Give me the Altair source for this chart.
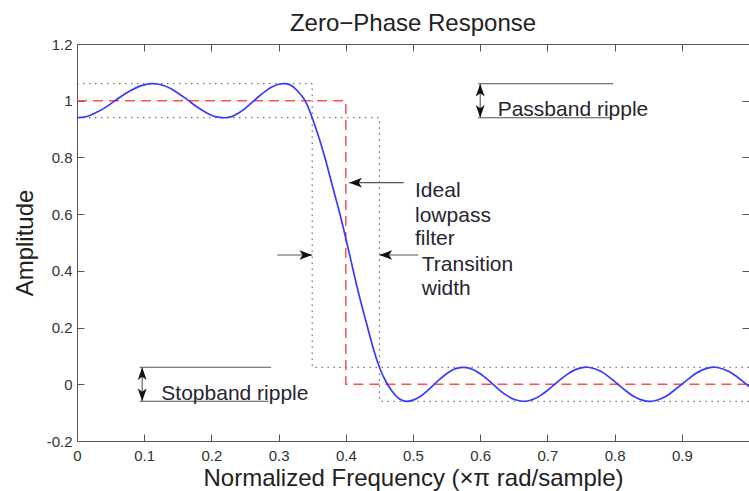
import altair as alt
import pandas as pd

FONT = "Liberation Sans"

# ---------------- data ----------------
chart_title = "Zero\u2212Phase Response"

freq = [0.00, 0.01, 0.02, 0.03, 0.04, 0.05, 0.06, 0.07, 0.08, 0.09,
        0.10, 0.11, 0.12, 0.13, 0.14, 0.15, 0.16, 0.17, 0.18, 0.19,
        0.20, 0.21, 0.22, 0.23, 0.24, 0.25, 0.26, 0.27, 0.28, 0.29,
        0.30, 0.31, 0.32, 0.33, 0.34, 0.35, 0.36, 0.37, 0.38, 0.39,
        0.40, 0.41, 0.42, 0.43, 0.44, 0.45, 0.46, 0.47, 0.48, 0.49,
        0.50, 0.51, 0.52, 0.53, 0.54, 0.55, 0.56, 0.57, 0.58, 0.59,
        0.60, 0.61, 0.62, 0.63, 0.64, 0.65, 0.66, 0.67, 0.68, 0.69,
        0.70, 0.71, 0.72, 0.73, 0.74, 0.75, 0.76, 0.77, 0.78, 0.79,
        0.80, 0.81, 0.82, 0.83, 0.84, 0.85, 0.86, 0.87, 0.88, 0.89,
        0.90, 0.91, 0.92, 0.93, 0.94, 0.95, 0.96, 0.97, 0.98, 0.99,
        1.00]
amp = [0.940, 0.942, 0.949, 0.960, 0.973, 0.989, 1.006, 1.022, 1.036, 1.048,
       1.056, 1.060, 1.059, 1.053, 1.042, 1.027, 1.011, 0.993, 0.976, 0.961,
       0.949, 0.942, 0.940, 0.944, 0.956, 0.972, 0.993, 1.014, 1.033, 1.048,
       1.058, 1.060, 1.052, 1.030, 0.998, 0.940, 0.870, 0.790, 0.700, 0.612,
       0.515, 0.412, 0.312, 0.222, 0.134, 0.060, 0.008, -0.028, -0.052, -0.060,
       -0.056, -0.044, -0.026, -0.004, 0.018, 0.037, 0.052, 0.059, 0.059, 0.051,
       0.037, 0.019, -0.002, -0.023, -0.040, -0.053, -0.059, -0.059, -0.052, -0.039,
       -0.022, -0.002, 0.018, 0.036, 0.050, 0.058, 0.060, 0.055, 0.045, 0.029,
       0.010, -0.010, -0.029, -0.045, -0.055, -0.060, -0.058, -0.050, -0.037, -0.019,
       0.000, 0.019, 0.037, 0.050, 0.058, 0.060, 0.055, 0.045, 0.030, 0.012,
       -0.008]

# ideal lowpass filter (red dashed)
ideal_x = [0.0, 0.4, 0.4, 1.0]
ideal_y = [1.0, 1.0, 0.0, 0.0]
ideal_ord = [0, 1, 2, 3]

# tolerance scheme (dotted)
tol_x = [0.0, 0.35, 0.35, 1.0, 0.0, 0.45, 0.45, 1.0]
tol_y = [1.06, 1.06, 0.06, 0.06, 0.94, 0.94, -0.06, -0.06]
tol_id = ["upper", "upper", "upper", "upper", "lower", "lower", "lower", "lower"]
tol_ord = [0, 1, 2, 3, 0, 1, 2, 3]

# annotation line segments
seg_x = [0.597, 0.597, 0.600, 0.093, 0.093, 0.097, 0.405, 0.298, 0.450]
seg_x2 = [0.798, 0.795, 0.600, 0.289, 0.285, 0.097, 0.486, 0.350, 0.508]
seg_y = [1.06, 0.94, 1.06, 0.06, -0.06, 0.06, 0.711, 0.456, 0.456]
seg_y2 = [1.06, 0.94, 0.94, 0.06, -0.06, -0.06, 0.711, 0.456, 0.456]

# arrow heads (tip positions)
head_x = [0.405, 0.450, 0.350, 0.600, 0.600, 0.097, 0.097]
head_y = [0.711, 0.456, 0.456, 1.06, 0.94, 0.06, -0.06]
head_dir = ["left", "left", "right", "up", "down", "up", "down"]

# annotation texts
lab_text = ["Passband ripple", "Stopband ripple", "Ideal", "lowpass", "filter",
            "Transition", "width"]
lab_x = [0.626, 0.1255, 0.503, 0.503, 0.503, 0.513, 0.513]
lab_y = [0.946, -0.056, 0.659, 0.574, 0.490, 0.399, 0.314]

# axis ticks
x_labels = [0.0, 0.1, 0.2, 0.3, 0.4, 0.5, 0.6, 0.7, 0.8, 0.9]
y_labels = [-0.2, 0.0, 0.2, 0.4, 0.6, 0.8, 1.0, 1.2]
x_ticks = [0.1, 0.2, 0.3, 0.4, 0.5, 0.6, 0.7, 0.8, 0.9]
y_ticks = [0.0, 0.2, 0.4, 0.6, 0.8, 1.0]

# ---------------- frames ----------------
curve_df = pd.DataFrame({"freq": freq, "amp": amp})
ideal_df = pd.DataFrame({"freq": ideal_x, "amp": ideal_y, "ord": ideal_ord})
tol_df = pd.DataFrame({"freq": tol_x, "amp": tol_y, "grp": tol_id, "ord": tol_ord})
seg_df = pd.DataFrame({"x": seg_x, "x2": seg_x2, "y": seg_y, "y2": seg_y2})
head_df = pd.DataFrame({"x": head_x, "y": head_y, "dir": head_dir})
lab_df = pd.DataFrame({"text": lab_text, "x": lab_x, "y": lab_y})
title_df = pd.DataFrame({"text": [chart_title]})

W, H = 672, 397
XS = alt.Scale(domain=[0, 1], nice=False, zero=False)
YS = alt.Scale(domain=[-0.2, 1.2], nice=False, zero=False)
LBL = "replace(format(datum.value, '.1~f'), '\u2212', '-')"
AX = "#555555"

main_x = alt.Axis(orient="bottom", values=x_labels, labelExpr=LBL, grid=False,
                  domain=True, domainColor=AX, ticks=False, labelPadding=7,
                  labelFlush=False, labelOverlap=False,
                  labelFont=FONT, labelFontSize=15, labelColor="#333333",
                  title="Normalized Frequency (\u00d7\u03c0 rad/sample)",
                  titleFont=FONT, titleFontSize=24, titleFontWeight="normal",
                  titleColor="#222222", titleY=44, titleBaseline="alphabetic")
main_y = alt.Axis(orient="left", values=y_labels, labelExpr=LBL, grid=False,
                  domain=True, domainColor=AX, ticks=False, labelPadding=5,
                  labelFlush=False, labelOverlap=False,
                  labelFont=FONT, labelFontSize=15, labelColor="#333333",
                  title="Amplitude", titleFont=FONT, titleFontSize=24,
                  titleFontWeight="normal", titleColor="#222222",
                  titleX=-45, titleY=H / 2, titleAngle=270, titleAlign="center",
                  titleBaseline="alphabetic")


def tick_axis(orient, vals):
    return alt.Axis(orient=orient, values=vals, offset=-7, tickSize=7, ticks=True,
                    tickColor=AX, labels=False, domain=False, grid=False, title=None)


tol = alt.Chart(tol_df).mark_line(color="#505050", strokeWidth=1,
                                  strokeDash=[1.5, 4.5]).encode(
    x=alt.X("freq:Q", scale=XS, axis=main_x),
    y=alt.Y("amp:Q", scale=YS, axis=main_y),
    detail="grp:N",
    order="ord:Q",
)

ideal = alt.Chart(ideal_df).mark_line(color="#ff5050", strokeWidth=1.5,
                                      strokeDash=[10, 6]).encode(
    x=alt.X("freq:Q", scale=XS, axis=None),
    y=alt.Y("amp:Q", scale=YS, axis=None),
    order="ord:Q",
)

curve = alt.Chart(curve_df).mark_line(color="#3a3aff", strokeWidth=1.7,
                                      interpolate="natural").encode(
    x=alt.X("freq:Q", scale=XS, axis=None),
    y=alt.Y("amp:Q", scale=YS, axis=None),
)

segs = alt.Chart(seg_df).mark_rule(color="#555555", strokeWidth=1.1).encode(
    x=alt.X("x:Q", scale=XS, axis=None),
    x2="x2:Q",
    y=alt.Y("y:Q", scale=YS, axis=None),
    y2="y2:Q",
)

PATHS = {
    "left": "M 0 0 L 1.6 -0.6 L 1.2 0 L 1.6 0.6 Z",
    "right": "M 0 0 L -1.6 -0.6 L -1.2 0 L -1.6 0.6 Z",
    "up": "M 0 0 L 0.55 1.6 L 0 1.2 L -0.55 1.6 Z",
    "down": "M 0 0 L 0.55 -1.6 L 0 -1.2 L -0.55 -1.6 Z",
}
heads = alt.Chart(head_df).mark_point(filled=True, opacity=1, color="#111111",
                                      size=256, strokeWidth=0).encode(
    x=alt.X("x:Q", scale=XS, axis=None),
    y=alt.Y("y:Q", scale=YS, axis=None),
    shape=alt.Shape("dir:N", scale=alt.Scale(domain=list(PATHS.keys()),
                                             range=list(PATHS.values())),
                    legend=None),
)

labels = alt.Chart(lab_df).mark_text(align="left", baseline="alphabetic",
                                     font=FONT, fontSize=21,
                                     color="#262630").encode(
    x=alt.X("x:Q", scale=XS, axis=None),
    y=alt.Y("y:Q", scale=YS, axis=None),
    text="text:N",
)

title = alt.Chart(title_df).mark_text(align="center", baseline="alphabetic",
                                      font=FONT, fontSize=24,
                                      color="#222222").encode(
    x=alt.value(W / 2),
    y=alt.value(-13),
    text="text:N",
)

ticks_a = alt.Chart(curve_df).mark_line(strokeOpacity=0).encode(
    x=alt.X("freq:Q", scale=XS, axis=tick_axis("bottom", x_ticks)),
    y=alt.Y("amp:Q", scale=YS, axis=tick_axis("left", y_ticks)),
)
ticks_b = alt.Chart(curve_df).mark_line(strokeOpacity=0).encode(
    x=alt.X("freq:Q", scale=XS, axis=tick_axis("top", x_ticks)),
    y=alt.Y("amp:Q", scale=YS, axis=tick_axis("right", y_ticks)),
)
top_frame = alt.Chart(curve_df).mark_line(strokeOpacity=0).encode(
    x=alt.X("freq:Q", scale=XS,
            axis=alt.Axis(orient="top", domain=True, domainColor=AX, ticks=False,
                          labels=False, grid=False, title=None)),
    y=alt.Y("amp:Q", scale=YS, axis=None),
)

chart = alt.layer(
    tol, ideal, curve, segs, heads, labels, title, ticks_a, ticks_b, top_frame
).resolve_axis(
    x="independent", y="independent"
).properties(
    width=W,
    height=H,
    padding={"left": 77, "top": 44, "right": 0, "bottom": 50},
    autosize=alt.AutoSizeParams(type="none"),
).configure_view(stroke=None).configure(background="white")

chart.save("out.html", embed_options={"renderer": "svg", "actions": False})
